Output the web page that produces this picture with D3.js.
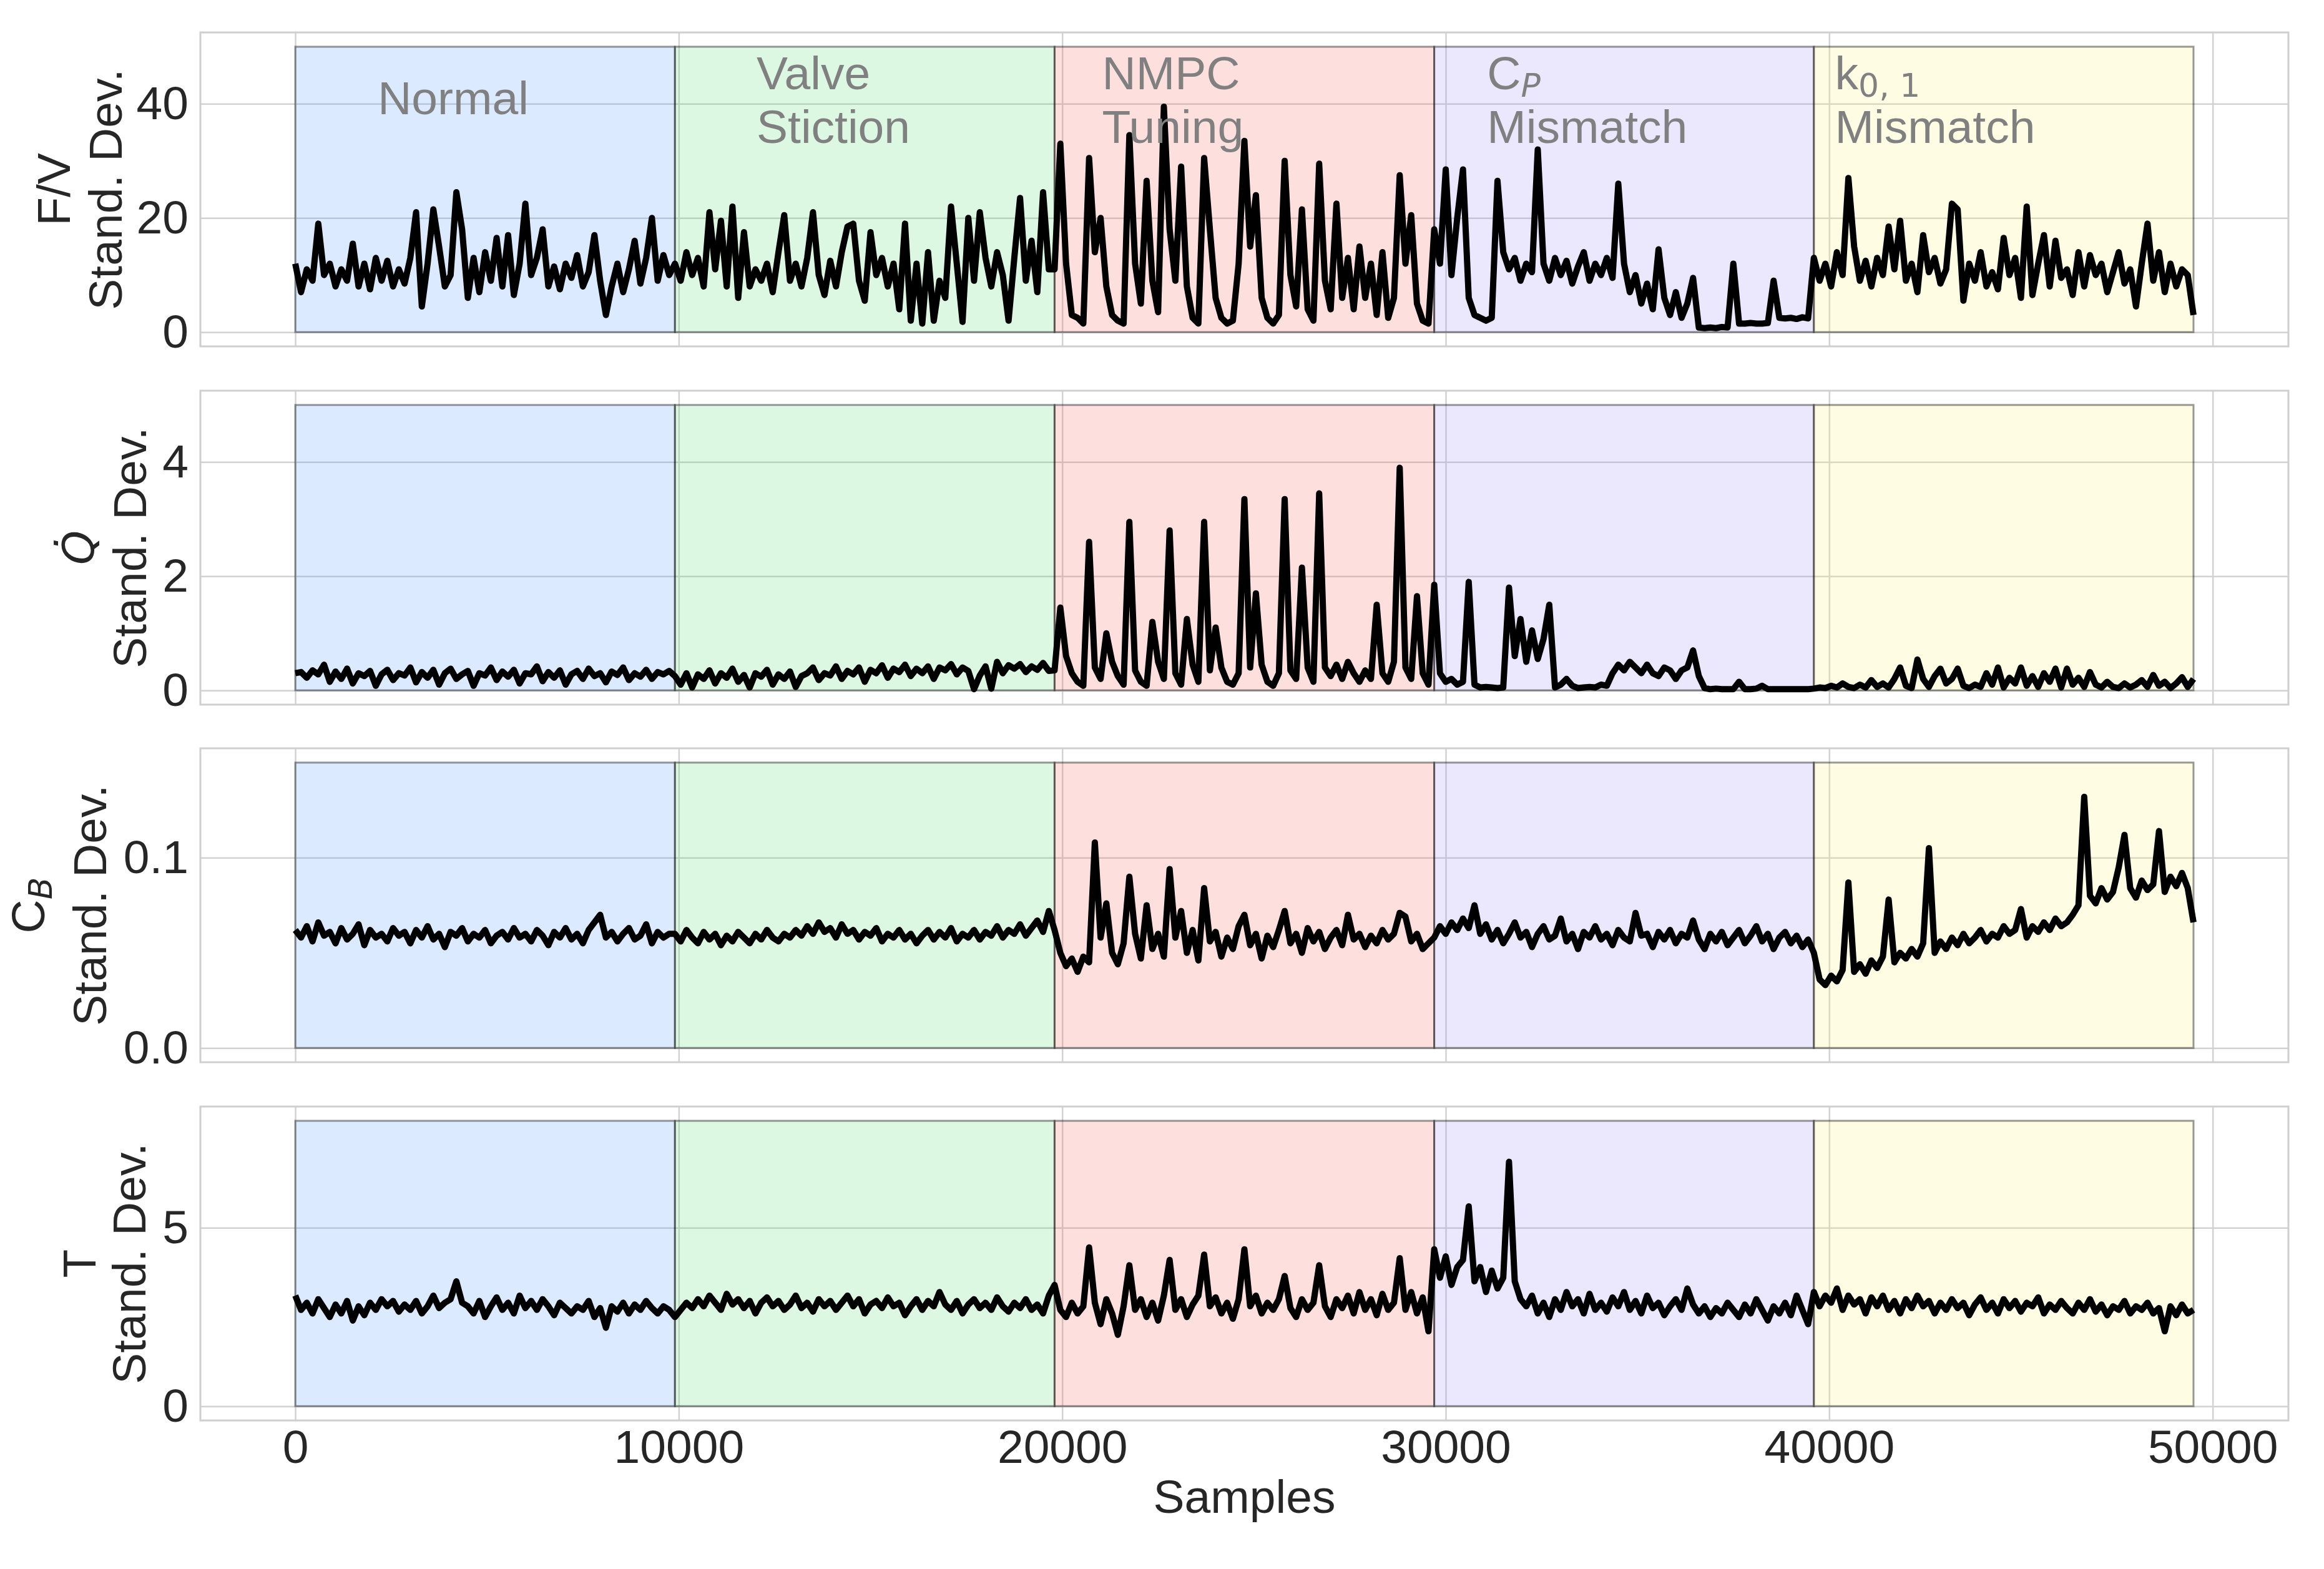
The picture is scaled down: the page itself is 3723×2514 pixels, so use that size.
<!DOCTYPE html>
<html>
<head>
<meta charset="utf-8">
<script src="https://cdn.jsdelivr.net/npm/d3@7"></script>
<style>
  body { margin: 0; background: #fff; }
  text { font-family: "Liberation Sans", Arial, sans-serif; }
</style>
</head>
<body>
<script>
// one value every 150 samples
const sampleStep = 150;

const regionBounds = [0, 9900, 19800, 29700, 39600, 49500];
const regionColors = ['#4b96fa', '#50dc6e', '#f5645a', '#9b87f0', '#faf06e'];
const xTicks = [0, 10000, 20000, 30000, 40000, 50000];

// F/V standard deviation
const fvStd = [
  // normal
  12, 7, 11, 9, 19, 10, 12, 8, 11, 9, 15.5, 8, 12, 7.5, 13, 9, 12.5, 8, 11, 8.5,
  13, 21, 4.5, 12, 21.5, 15, 8, 10, 24.5, 18, 6, 13, 7, 14, 9, 16.5, 8, 17, 6.5, 12,
  22.5, 10, 13, 18, 8, 11.5, 7.5, 12, 9.5, 13.5, 8, 10.5, 17, 9, 3, 8, 12, 7, 11, 16,
  8.5, 13, 20, 9, 13.5, 10,
  // valve stiction
  12, 9, 14, 10, 13, 8, 21, 11, 19.5, 8, 22, 6, 17.5, 8, 11, 9, 12, 7, 14, 20.5,
  9, 12, 8, 13, 21, 10, 6.5, 12.5, 8, 14, 18.5, 19, 9, 5.5, 17.5, 10, 13, 8, 12, 4,
  19, 2, 12, 1.5, 14, 2, 9, 6, 22, 12, 1.8, 20, 9, 21, 13, 8, 14, 10, 2, 13,
  23.5, 9, 16, 7, 24.5, 11,
  // NMPC tuning
  11, 33, 12, 3, 2.5, 1.5, 30.5, 14, 20, 8, 3, 2, 1.5, 34.5, 12, 5, 26.5, 9, 3.5, 39.5,
  18, 9, 29, 8, 2.5, 1.5, 30.5, 18, 6, 2.5, 1.5, 2, 12, 33.5, 15, 24, 6, 2.5, 1.5, 3,
  30, 10, 4.5, 21.5, 4, 2, 29.5, 9, 4, 22.5, 6, 13, 4, 15, 6, 12, 3, 14, 2.5, 6,
  27.5, 12, 20.5, 5, 2, 1.5,
  // C_P mismatch
  18, 12, 28.5, 10, 20, 28.5, 6, 3, 2.5, 2, 2.5, 26.5, 14, 11, 13, 9, 12, 10.5, 32, 12,
  9, 13, 10, 12.5, 8.5, 11.5, 14, 9, 12, 10, 13, 9.5, 26, 12, 7, 10, 5, 8.5, 4, 14.5,
  6, 3, 7, 2.5, 5, 9.5, 0.8, 0.7, 0.8, 0.7, 0.9, 0.8, 12, 1.5, 1.5, 1.6, 1.5, 1.5, 1.6, 9,
  2.5, 2.4, 2.5, 2.3, 2.6, 2.4,
  // k0,1 mismatch
  13, 9, 12, 8, 14, 10, 27, 15, 9, 12.5, 8, 13, 10, 18.5, 11, 19.5, 9, 12, 7, 17,
  10.5, 13, 8.5, 11, 22.5, 21.5, 5.5, 12, 9, 14, 8, 10.5, 7.5, 16.5, 10, 13, 6, 22, 6.5, 12,
  17, 8, 16, 9.5, 11, 6.5, 14, 8, 13.5, 10, 12, 7, 10.5, 14, 8.5, 11, 4.5, 12, 19, 9,
  14, 7, 12, 8, 11, 10, 3
];

// Q-dot standard deviation
const qStd = [
  // normal
  0.3, 0.32, 0.22, 0.35, 0.28, 0.45, 0.15, 0.33, 0.2, 0.38, 0.12, 0.3, 0.25, 0.34, 0.08, 0.28, 0.36, 0.18, 0.3, 0.26,
  0.4, 0.14, 0.32, 0.22, 0.36, 0.1, 0.3, 0.38, 0.2, 0.28, 0.34, 0.08, 0.3, 0.26, 0.4, 0.18, 0.33, 0.24, 0.36, 0.12,
  0.3, 0.28, 0.42, 0.16, 0.32, 0.22, 0.35, 0.1, 0.28, 0.34, 0.2, 0.38, 0.25, 0.3, 0.14, 0.33, 0.27, 0.4, 0.18, 0.3,
  0.24, 0.36, 0.2, 0.32, 0.28, 0.34,
  // valve stiction
  0.25, 0.1, 0.3, 0.05, 0.28, 0.2, 0.35, 0.12, 0.3, 0.22, 0.38, 0.15, 0.27, 0.05, 0.3, 0.24, 0.36, 0.1, 0.28, 0.2,
  0.33, 0.06, 0.25, 0.3, 0.4, 0.18, 0.3, 0.26, 0.42, 0.2, 0.34, 0.28, 0.4, 0.15, 0.36, 0.3, 0.44, 0.22, 0.38, 0.32,
  0.45, 0.25, 0.38, 0.3, 0.42, 0.2, 0.4, 0.35, 0.46, 0.28, 0.4, 0.34, 0.02, 0.26, 0.42, 0.03, 0.5, 0.3, 0.44, 0.38,
  0.46, 0.32, 0.42, 0.36, 0.48, 0.34,
  // NMPC tuning
  0.35, 1.45, 0.6, 0.3, 0.15, 0.08, 2.6, 0.4, 0.2, 1.0, 0.5, 0.25, 0.1, 2.95, 0.35, 0.15, 0.08, 1.2, 0.5, 0.2,
  2.8, 0.3, 0.1, 1.25, 0.45, 0.15, 2.95, 0.35, 1.1, 0.4, 0.15, 0.1, 0.3, 3.35, 0.4, 1.7, 0.45, 0.15, 0.08, 0.3,
  3.35, 0.35, 0.2, 2.15, 0.4, 0.15, 3.45, 0.4, 0.25, 0.45, 0.2, 0.5, 0.3, 0.15, 0.35, 0.2, 1.5, 0.3, 0.15, 0.5,
  3.9, 0.4, 0.2, 1.65, 0.3, 0.1,
  // C_P mismatch
  1.85, 0.3, 0.15, 0.2, 0.1, 0.15, 1.9, 0.1, 0.05, 0.06, 0.05, 0.04, 0.05, 1.8, 0.6, 1.25, 0.5, 1.05, 0.55, 0.9,
  1.5, 0.05, 0.1, 0.2, 0.08, 0.04, 0.05, 0.06, 0.05, 0.1, 0.08, 0.3, 0.45, 0.35, 0.5, 0.4, 0.3, 0.45, 0.3, 0.25,
  0.4, 0.35, 0.2, 0.35, 0.4, 0.7, 0.25, 0.04, 0.02, 0.03, 0.02, 0.02, 0.02, 0.15, 0.02, 0.02, 0.03, 0.08, 0.02, 0.02,
  0.02, 0.02, 0.02, 0.02, 0.02, 0.02,
  // k0,1 mismatch
  0.03, 0.05, 0.04, 0.08, 0.05, 0.12, 0.06, 0.04, 0.1, 0.05, 0.18, 0.06, 0.12, 0.05, 0.2, 0.4, 0.08, 0.04, 0.54, 0.2,
  0.06, 0.25, 0.38, 0.12, 0.2, 0.38, 0.08, 0.04, 0.1, 0.06, 0.3, 0.1, 0.4, 0.05, 0.22, 0.12, 0.4, 0.08, 0.25, 0.06,
  0.3, 0.15, 0.38, 0.05, 0.38, 0.1, 0.22, 0.06, 0.32, 0.1, 0.05, 0.15, 0.06, 0.04, 0.12, 0.05, 0.1, 0.18, 0.06, 0.27,
  0.08, 0.15, 0.04, 0.12, 0.23, 0.06, 0.2
];

// C_B standard deviation
const cbStd = [
  // normal
  0.062, 0.058, 0.064, 0.056, 0.066, 0.059, 0.061, 0.055, 0.063, 0.057, 0.06, 0.065, 0.054, 0.062, 0.058, 0.06, 0.056, 0.063, 0.059, 0.061,
  0.055, 0.062, 0.058, 0.064, 0.057, 0.06, 0.053, 0.061, 0.059, 0.063, 0.056, 0.06, 0.058, 0.062, 0.055, 0.059, 0.061, 0.057, 0.063, 0.058,
  0.06, 0.056, 0.062, 0.059, 0.054, 0.061, 0.058, 0.063, 0.057, 0.06, 0.055, 0.062, 0.066, 0.07, 0.058, 0.061, 0.056, 0.06, 0.063, 0.057,
  0.059, 0.065, 0.055, 0.061, 0.058, 0.06,
  // valve stiction
  0.06, 0.056, 0.062, 0.058, 0.055, 0.061, 0.057, 0.06, 0.054, 0.059, 0.056, 0.061, 0.058, 0.055, 0.06, 0.057, 0.062, 0.058, 0.056, 0.06,
  0.058, 0.062, 0.059, 0.064, 0.06, 0.066, 0.061, 0.063, 0.058, 0.065, 0.06, 0.062, 0.057, 0.061, 0.059, 0.063, 0.056, 0.06, 0.058, 0.062,
  0.057, 0.06, 0.055, 0.059, 0.062, 0.057, 0.061, 0.058, 0.063, 0.056, 0.06, 0.058, 0.062, 0.057, 0.061, 0.059, 0.064, 0.058, 0.062, 0.06,
  0.065, 0.059, 0.063, 0.067, 0.061, 0.072,
  // NMPC tuning
  0.062, 0.05, 0.043, 0.047, 0.04, 0.048, 0.045, 0.108, 0.058, 0.076, 0.05, 0.044, 0.055, 0.09, 0.06, 0.047, 0.075, 0.052, 0.06, 0.048,
  0.094, 0.058, 0.072, 0.05, 0.062, 0.046, 0.084, 0.056, 0.061, 0.048, 0.058, 0.052, 0.064, 0.07, 0.054, 0.06, 0.047, 0.059, 0.053, 0.062,
  0.072, 0.055, 0.06, 0.05, 0.063, 0.056, 0.061, 0.052, 0.058, 0.062, 0.054, 0.07, 0.057, 0.06, 0.053, 0.059, 0.055, 0.062, 0.057, 0.06,
  0.071, 0.069, 0.056, 0.06, 0.052, 0.055,
  // C_P mismatch
  0.058, 0.064, 0.06, 0.066, 0.062, 0.068, 0.063, 0.075, 0.06, 0.065, 0.057, 0.062, 0.055, 0.06, 0.066, 0.058, 0.061, 0.053, 0.06, 0.064,
  0.057, 0.059, 0.068, 0.056, 0.06, 0.052, 0.061, 0.058, 0.064, 0.057, 0.06, 0.054, 0.062, 0.058, 0.056, 0.071, 0.059, 0.06, 0.053, 0.061,
  0.057, 0.062, 0.055, 0.06, 0.058, 0.067, 0.057, 0.052, 0.06, 0.056, 0.061, 0.054, 0.058, 0.062, 0.055, 0.059, 0.064, 0.056, 0.06, 0.052,
  0.058, 0.061, 0.055, 0.059, 0.053, 0.057,
  // k0,1 mismatch
  0.05, 0.036, 0.033, 0.038, 0.035, 0.041, 0.087, 0.04, 0.044, 0.039, 0.046, 0.042, 0.048, 0.078, 0.045, 0.05, 0.047, 0.052, 0.048, 0.055,
  0.105, 0.05, 0.056, 0.052, 0.058, 0.054, 0.06, 0.055, 0.058, 0.062, 0.056, 0.06, 0.058, 0.064, 0.06, 0.062, 0.073, 0.058, 0.064, 0.061,
  0.066, 0.062, 0.068, 0.064, 0.066, 0.07, 0.075, 0.132, 0.08, 0.076, 0.084, 0.078, 0.082, 0.095, 0.112, 0.084, 0.079, 0.088, 0.083, 0.086,
  0.114, 0.082, 0.09, 0.085, 0.092, 0.084, 0.066
];

// T standard deviation
const tStd = [
  // normal
  3.1, 2.7, 2.9, 2.6, 3.0, 2.75, 2.5, 2.85, 2.6, 2.95, 2.4, 2.8, 2.55, 2.9, 2.7, 3.0, 2.8, 2.95, 2.65, 2.85,
  2.7, 2.95, 2.6, 2.8, 3.1, 2.75, 2.9, 3.0, 3.5, 2.9, 2.8, 2.6, 2.95, 2.5, 2.8, 3.05, 2.7, 2.9, 2.6, 3.1,
  2.75, 2.95, 2.7, 3.0, 2.8, 2.55, 2.9, 2.75, 2.6, 2.8, 2.7, 2.95, 2.5, 2.75, 2.2, 2.8, 2.65, 2.9, 2.6, 2.85,
  2.7, 2.95, 2.75, 2.6, 2.8, 2.7,
  // valve stiction
  2.5, 2.7, 2.9, 2.75, 3.0, 2.8, 3.1, 2.9, 2.7, 3.15, 2.85, 3.0, 2.75, 2.95, 2.6, 2.9, 3.05, 2.8, 2.95, 2.7,
  2.85, 3.1, 2.75, 2.9, 2.65, 3.0, 2.8, 2.95, 2.7, 2.9, 3.1, 2.8, 3.0, 2.6, 2.85, 2.95, 2.75, 3.05, 2.8, 2.9,
  2.55, 2.8, 3.0, 2.7, 2.95, 2.8, 3.2, 2.85, 2.7, 2.95, 2.6, 2.85, 3.0, 2.75, 2.9, 2.7, 3.05, 2.8, 2.65, 2.9,
  2.75, 3.0, 2.7, 2.85, 2.6, 3.1,
  // NMPC tuning
  3.4, 2.7, 2.5, 2.9, 2.6, 2.8, 4.45, 2.9, 2.3, 3.0, 2.6, 2.0, 2.8, 3.95, 2.7, 3.0, 2.5, 2.9, 2.4, 3.1,
  4.1, 2.7, 3.0, 2.5, 2.85, 3.1, 4.25, 2.8, 3.05, 2.6, 2.9, 2.45, 3.0, 4.4, 2.8, 3.1, 2.6, 2.9, 2.7, 3.0,
  3.65, 2.75, 2.5, 3.0, 2.7, 2.9, 3.95, 2.8, 2.5, 3.0, 2.75, 3.1, 2.6, 3.2, 2.7, 3.0, 2.55, 3.15, 2.7, 2.9,
  4.15, 2.7, 3.2, 2.6, 3.05, 2.1,
  // C_P mismatch
  4.4, 3.6, 4.2, 3.4, 3.9, 4.1, 5.6, 3.5, 3.9, 3.2, 3.8, 3.3, 3.6, 6.85, 3.5, 3.0, 2.8, 3.1, 2.6, 2.9,
  2.5, 3.0, 2.7, 3.2, 2.8, 3.0, 2.6, 3.15, 2.7, 2.9, 2.65, 3.05, 2.8, 3.2, 2.7, 2.95, 2.6, 3.1, 2.75, 2.9,
  2.55, 2.8, 3.0, 2.7, 3.3, 2.85, 2.6, 2.8, 2.5, 2.75, 2.6, 2.9, 2.7, 2.5, 2.85, 2.6, 3.0, 2.7, 2.4, 2.8,
  2.6, 2.9, 2.55, 3.1, 2.7, 2.3,
  // k0,1 mismatch
  3.2, 2.8, 3.1, 2.9, 3.3, 2.7, 3.1, 2.85, 3.0, 2.6, 3.05, 2.8, 3.1, 2.7, 2.95, 2.6, 3.0, 2.75, 3.1, 2.8,
  2.95, 2.6, 2.9, 2.7, 3.0, 2.75, 2.9, 2.55, 2.85, 3.05, 2.7, 2.9, 2.6, 3.0, 2.75, 2.95, 2.65, 2.9, 2.8, 3.05,
  2.6, 2.85, 2.7, 2.95, 2.75, 2.6, 2.9, 2.7, 3.0, 2.65, 2.85, 2.55, 2.8, 2.7, 2.95, 2.6, 2.8, 2.7, 2.9, 2.6,
  2.75, 2.1, 2.8, 2.55, 2.85, 2.6, 2.7
];

const panels = [
  { values: fvStd, top: 50, ticks: [0, 20, 40], fmt: d3.format('d') },
  { values: qStd, top: 5, ticks: [0, 2, 4], fmt: d3.format('d') },
  { values: cbStd, top: 0.15, ticks: [0, 0.1], fmt: d3.format('.1f') },
  { values: tStd, top: 8, ticks: [0, 5], fmt: d3.format('d') }
];

let w = 3723;
let h = 2514;
let left = 321;
let right = 3666;
let panelTops = [52, 626, 1199, 1773];
let panelH = 503;
let fontSize = 75;

let svg = d3.select('body')
  .append('svg')
  .attr('width', w)
  .attr('height', h);

svg.append('rect').attr('width', w).attr('height', h).attr('fill', '#fff');

let xScale = d3.scaleLinear()
  .domain([-2475, 51975])
  .range([left, right]);

let line = d3.line()
  .x((d, i) => xScale(i * sampleStep))
  .curve(d3.curveLinear);

let yScales = [];

panels.forEach((p, k) => {
  let top = panelTops[k];
  let yScale = d3.scaleLinear()
    .domain([-p.top * 0.05, p.top * 1.05])
    .range([top + panelH, top]);
  yScales.push(yScale);

  let g = svg.append('g');

  // grid
  g.append('g')
    .attr('transform', 'translate(0,' + (top + panelH) + ')')
    .call(d3.axisBottom(xScale).tickValues(xTicks).tickSize(-panelH).tickFormat(''))
    .call(s => s.select('.domain').remove())
    .selectAll('line').attr('stroke', '#d2d2d2').attr('stroke-width', 2.5);

  g.append('g')
    .attr('transform', 'translate(' + left + ',0)')
    .call(d3.axisLeft(yScale).tickValues(p.ticks).tickSize(-(right - left)).tickFormat(''))
    .call(s => s.select('.domain').remove())
    .selectAll('line').attr('stroke', '#d2d2d2').attr('stroke-width', 2.5);

  // fault regions
  g.selectAll('rect.span')
    .data(regionColors)
    .enter()
    .append('rect')
    .attr('class', 'span')
    .attr('x', (d, i) => xScale(regionBounds[i]))
    .attr('width', (d, i) => xScale(regionBounds[i + 1]) - xScale(regionBounds[i]))
    .attr('y', yScale(p.top))
    .attr('height', yScale(0) - yScale(p.top))
    .attr('fill', d => d)
    .attr('fill-opacity', 0.2)
    .attr('stroke', '#000')
    .attr('stroke-opacity', 0.4)
    .attr('stroke-width', 3);

  // series
  g.append('path')
    .datum(p.values)
    .attr('d', line.y(d => yScale(d)))
    .attr('fill', 'none')
    .attr('stroke', '#000')
    .attr('stroke-width', 10)
    .attr('stroke-linejoin', 'round');

  // frame
  g.append('rect')
    .attr('x', left)
    .attr('y', top)
    .attr('width', right - left)
    .attr('height', panelH)
    .attr('fill', 'none')
    .attr('stroke', '#cfcfcf')
    .attr('stroke-width', 3);

  // y tick labels
  let ya = g.append('g')
    .attr('transform', 'translate(' + left + ',0)')
    .call(d3.axisLeft(yScale).tickValues(p.ticks).tickSize(0).tickPadding(19).tickFormat(p.fmt));
  ya.select('.domain').remove();
  ya.selectAll('text')
    .attr('font-size', fontSize)
    .attr('font-family', '"Liberation Sans", Arial, sans-serif')
    .attr('fill', '#262626');
});

// x tick labels on the bottom panel
let xa = svg.append('g')
  .attr('transform', 'translate(0,' + (panelTops[3] + panelH) + ')')
  .call(d3.axisBottom(xScale).tickValues(xTicks).tickSize(0).tickPadding(15).tickFormat(d3.format('d')));
xa.select('.domain').remove();
xa.selectAll('text')
  .attr('font-size', fontSize)
  .attr('font-family', '"Liberation Sans", Arial, sans-serif')
  .attr('fill', '#262626');

svg.append('text')
  .attr('x', (left + right) / 2)
  .attr('y', 2424)
  .attr('text-anchor', 'middle')
  .attr('font-size', fontSize)
  .attr('fill', '#262626')
  .text('Samples');

// y labels: two lines, rotated
let yLabelPos = [[112, 195], [150, 234], [71, 170], [153, 233]];
let firstLines = ['F/V', 'Q', 'C', 'T'];
panels.forEach((p, k) => {
  let cy = panelTops[k] + panelH / 2;
  let t1 = svg.append('text')
    .attr('transform', 'translate(' + yLabelPos[k][0] + ',' + cy + ') rotate(-90)')
    .attr('text-anchor', 'middle')
    .attr('font-size', fontSize)
    .attr('fill', '#262626');
  if (k === 1) {
    t1.append('tspan')
      .attr('font-family', '"DejaVu Sans", sans-serif')
      .attr('font-style', 'italic')
      .attr('font-size', 70)
      .text('Q\u0307');
  } else if (k === 2) {
    t1.append('tspan').text('C');
    t1.append('tspan')
      .attr('font-family', '"DejaVu Sans", sans-serif')
      .attr('font-style', 'italic')
      .attr('font-size', 52)
      .attr('dy', 12)
      .text('B');
  } else {
    t1.text(firstLines[k]);
  }
  svg.append('text')
    .attr('transform', 'translate(' + yLabelPos[k][1] + ',' + cy + ') rotate(-90)')
    .attr('text-anchor', 'middle')
    .attr('font-size', fontSize)
    .attr('fill', '#262626')
    .text('Stand. Dev.');
});

// region annotations in the top panel
let y1 = yScales[0];
let annX = [2150, 12030, 21040, 31080, 40150];
let ann = svg.append('g')
  .attr('font-size', fontSize)
  .attr('fill', '#808080');

ann.append('text').attr('x', xScale(annX[0])).attr('y', y1(38.2)).text('Normal');

[['Valve', 'Stiction'], ['NMPC', 'Tuning'], [null, 'Mismatch'], [null, 'Mismatch']].forEach((lines, i) => {
  let x = xScale(annX[i + 1]);
  let t = ann.append('text').attr('x', x).attr('y', y1(42.5));
  if (i === 2) {
    t.append('tspan').text('C');
    t.append('tspan')
      .attr('font-family', '"DejaVu Sans", sans-serif')
      .attr('font-style', 'italic')
      .attr('font-size', 52)
      .attr('dy', 12)
      .text('P');
  } else if (i === 3) {
    t.append('tspan').text('k');
    t.append('tspan')
      .attr('font-family', '"DejaVu Sans", sans-serif')
      .attr('font-size', 52)
      .attr('dy', 12)
      .text('0, 1');
  } else {
    t.text(lines[0]);
  }
  ann.append('text').attr('x', x).attr('y', y1(33.2)).text(lines[1]);
});
</script>
</body>
</html>
